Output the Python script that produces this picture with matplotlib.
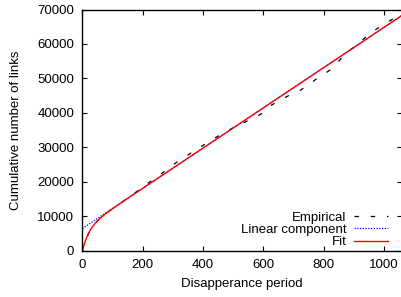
import numpy as np
import matplotlib
matplotlib.use("Agg")
import matplotlib.pyplot as plt

plt.rcParams["font.family"] = ["Liberation Sans", "DejaVu Sans"]
plt.rcParams["font.size"] = 9.5

# empirical cumulative count
emp_x = [0, 0, 5, 10, 25, 50, 75, 100, 125, 150, 175, 200, 225, 250, 275, 300,
         325, 350, 375, 400, 425, 450, 475, 500, 525, 550, 575, 600, 625, 650,
         675, 700, 725, 750, 775, 800, 825, 850, 875, 900, 925, 950, 975, 1000,
         1025, 1050, 1060]
emp_y = [0, 2000, 2400, 3100, 5900, 8700, 10700, 12300, 13800, 15300, 16900,
         18500, 20100, 21550, 23300, 24900, 26500, 27800, 29300, 30600, 31900,
         33300, 34500, 35750, 36800, 37800, 38800, 40100, 42200, 43400, 44600,
         45800, 46700, 48200, 49800, 51150, 52700, 55000, 57500, 59000, 60800,
         62900, 64300, 65700, 67000, 68300, 68800]

# fitted model: linear component plus a saturating start
intercept = 6500.0
slope = 58.3
tau = 22.0

xs = np.linspace(0, 1060, 800)
linear = intercept + slope * xs
fit = linear - intercept * np.exp(-xs / tau)

fig = plt.figure(figsize=(4.02, 2.97), dpi=100)
ax = fig.add_axes([0.205, 0.155, 0.795, 0.813])

ax.plot(emp_x, emp_y, color="black", lw=0.9, linestyle=(0, (3.5, 9.5)),
        label="Empirical")
ax.plot(xs, linear, color="#0000ff", lw=0.9, linestyle=(0, (1, 1.2)),
        label="Linear component")
ax.plot(xs, fit, color="#ff0000", lw=1.0, label="Fit")

ax.set_xlim(0, 1060)
ax.set_ylim(0, 70000)
ax.set_xticks([0, 200, 400, 600, 800, 1000])
ax.set_yticks(range(0, 70001, 10000))
ax.tick_params(direction="in", length=3.5, width=0.8, top=True, right=True,
               pad=6)
ax.spines["right"].set_visible(False)
for s in ["left", "bottom", "top"]:
    ax.spines[s].set_linewidth(1.0)

ax.set_xlabel("Disapperance period", labelpad=5)
ax.set_ylabel("Cumulative number of links", labelpad=11)

ax.legend(loc="lower right", bbox_to_anchor=(0.965, 0.164),
          bbox_transform=fig.transFigure, frameon=False, markerfirst=False,
          handlelength=2.6, handletextpad=0.55, labelspacing=0.0,
          borderpad=0.0, borderaxespad=0.0)

fig.savefig("out.png", dpi=100)
